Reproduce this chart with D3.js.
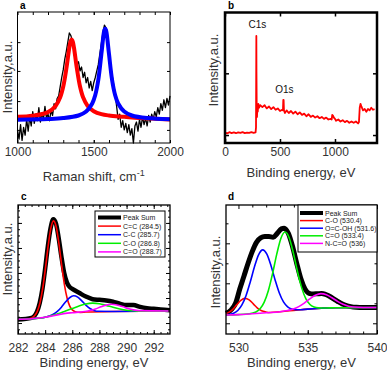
<!DOCTYPE html>
<html>
<head>
<meta charset="utf-8">
<script src="https://cdn.jsdelivr.net/npm/d3@7"></script>
<style>
  body { margin: 0; background: #fff; }
  text { font-family: "Liberation Sans", Arial, sans-serif; }
</style>
</head>
<body>
<svg id="fig" width="387" height="373"></svg>
<script>
// --- Data ---

// Panel a: Raman spectrum (intensity in arbitrary units, 0-100)
const ramanShift = d3.range(1000, 2001, 10);
const ramanRaw = [10, 3, 14, 2, 12, 6, 18, 9, 20, 13, 24, 15, 22, 17, 27, 16, 23, 18, 28, 19,
  22, 17, 25, 21, 30, 26, 34, 36, 43, 50, 56, 64, 70, 77, 84, 82, 78, 72, 66, 60,
  62, 55, 58, 50, 54, 46, 50, 42, 47, 40, 46, 50, 55, 60, 68, 76, 84, 90, 88, 80,
  70, 60, 52, 45, 38, 28, 18, 22, 12, 17, 10, 15, 8, 14, 6, 11, 0, 13, 16, 9,
  18, 12, 20, 14, 19, 13, 21, 16, 22, 18, 24, 20, 27, 22, 30, 25, 33, 27, 34, 29, 36];
const ramanD = [[1000, 20.0], [1100, 20.8], [1200, 23.6], [1250, 28.3], [1280, 34.9], [1300, 43.1],
  [1320, 56.5], [1340, 73], [1347, 77.2], [1355, 79], [1363, 77.2], [1370, 73], [1390, 56.5],
  [1410, 43.1], [1430, 34.9], [1460, 28.3], [1500, 24.3], [1550, 22], [1600, 21], [1700, 20],
  [1800, 19], [2000, 18]];
const ramanG = [[1000, 17.8], [1200, 18.3], [1300, 19], [1400, 21], [1450, 24], [1490, 30.2],
  [1510, 36.7], [1530, 48.3], [1550, 67.9], [1565, 83.4], [1570, 86.4], [1575, 87.5], [1580, 86.4],
  [1585, 83.4], [1600, 67.9], [1620, 48.3], [1640, 36.7], [1660, 30.2], [1700, 24], [1750, 21],
  [1850, 19], [2000, 18.1]];

// Panel b: XPS survey
const survey = [[0, 8], [20, 7.4], [40, 8.3], [60, 7.6], [80, 8.1], [100, 7.5], [120, 8.2], [140, 7.7],
  [160, 8.3], [180, 7.6], [200, 8.0], [220, 7.7], [240, 8.3], [260, 7.8], [278, 8.2], [282, 12],
  [284, 60], [285, 82], [286, 55], [288, 30], [291, 20], [294, 28], [298, 24], [303, 30], [310, 27],
  [320, 29], [340, 27.5], [360, 29], [380, 26.5], [400, 28], [420, 26], [440, 27.5], [460, 25.5],
  [480, 26.5], [500, 24.5], [520, 25.5], [527, 25], [530, 33], [533, 33], [536, 25], [545, 23],
  [560, 25], [580, 23], [600, 24.5], [620, 22.5], [640, 24], [660, 22], [680, 23.5], [700, 21.5],
  [720, 22.5], [740, 20.5], [760, 22], [780, 20], [800, 21], [820, 19.5], [840, 20.5], [860, 19],
  [880, 20], [900, 18.5], [920, 19.5], [940, 18], [960, 18.5], [970, 18], [975, 21.5], [982, 21],
  [990, 19.5], [1000, 18.5], [1010, 17], [1030, 18], [1050, 16.5], [1070, 17.5], [1090, 16],
  [1110, 17], [1130, 15.5], [1150, 16.5], [1170, 15.5], [1190, 16.5], [1210, 15], [1218, 16],
  [1225, 27], [1232, 30], [1240, 28], [1255, 25], [1270, 26], [1285, 24], [1300, 26], [1315, 25],
  [1330, 27], [1345, 25.5], [1360, 26]];
const surveyLabels = [["C1s", 285, 88], ["O1s", 531, 38]];

// Panel c: C1s high resolution
const cNames = ["Peak Sum", "C=C (284.5)", "C-C (285.7)", "C-O (286.8)", "C=O (288.7)"];
const cSum = [[282, 11.2], [283, 12.5], [283.4, 17.3], [283.6, 24], [283.8, 35], [284, 50.5], [284.2, 68],
  [284.4, 82], [284.6, 88.9], [284.8, 85.6], [285, 74.1], [285.2, 59.9], [285.4, 47.5], [285.6, 40],
  [285.8, 36.5], [286, 35], [286.5, 32], [287, 29], [287.5, 27], [288, 26.5], [288.5, 26], [289, 25],
  [289.5, 23.5], [290, 22.5], [290.5, 22.5], [291, 21], [291.5, 20], [292, 19.5], [292.5, 19], [293.2, 18.5]];
const cCC = [[282, 11.4], [282.6, 11.6], [283.02, 12.5], [283.22, 14.1], [283.42, 17.5], [283.62, 24.2],
  [283.82, 35.3], [284.02, 50.8], [284.22, 68.1], [284.42, 82.1], [284.62, 87.7], [284.82, 82.9],
  [285.02, 69.7], [285.22, 53.2], [285.42, 38.3], [285.62, 27.7], [285.82, 21.4], [286.02, 18.5],
  [286.22, 17.3], [286.6, 16.8], [287, 17], [289, 17.5], [293.2, 17.8]];
const cC_C = [[282, 11.4], [283, 11.8], [284, 13], [284.3, 14.0], [284.6, 15.3], [284.9, 17.5], [285.2, 20.8],
  [285.5, 24.8], [285.8, 28.1], [286.1, 29.6], [286.4, 28.6], [286.7, 25.7], [287, 22.4], [287.3, 19.8],
  [287.6, 18.3], [287.9, 17.6], [289, 17.5], [293.2, 17.8]];
const cCO = [[282, 11.4], [283, 11.8], [284, 13], [284.5, 14.4], [285, 15.9], [285.5, 17.9], [286, 19.8],
  [286.5, 21.7], [287, 23.3], [287.5, 23.9], [288, 23.5], [288.5, 22.2], [289, 20.7], [289.5, 19.4],
  [290, 18.45], [290.5, 18.0], [291, 17.65], [293.2, 17.8]];
const cCdO = [[282, 11.4], [283, 11.8], [284, 13], [284.5, 14], [285, 15], [285.5, 16], [286, 16.5],
  [286.9, 17.4], [287.3, 18.15], [287.7, 19.4], [288.1, 21.05], [288.5, 22.4], [288.9, 23.05],
  [289.3, 22.55], [289.7, 21.3], [290.1, 19.8], [290.5, 18.7], [290.9, 18.1], [293.2, 17.8]];

// Panel d: O1s high resolution
const dNames = ["Peak Sum", "C-O (530.4)", "O=C-OH (531.6)", "C=O (533.4)", "N-C=O (536)"];
const dSum = [[529.1, 16], [529.5, 19], [529.8, 24], [530.1, 35], [530.4, 45], [530.7, 55], [531, 64],
  [531.3, 71], [531.6, 74.5], [531.9, 75.5], [532.2, 75.5], [532.5, 75], [532.8, 78], [533.1, 81.5],
  [533.3, 82], [533.6, 78], [533.9, 68], [534.2, 55], [534.5, 43], [534.8, 35], [535.1, 31.5],
  [535.4, 31], [535.7, 31.2], [536, 31.4], [536.3, 30.6], [536.6, 29.05], [536.9, 27.05], [537.2, 25],
  [537.5, 23.2], [537.8, 22], [538.1, 21.25], [538.5, 20.7], [539, 20.5], [540, 20.5]];
const dCO = [[529.1, 15.7], [529.27, 16.55], [529.57, 18.95], [529.87, 22.55], [530.17, 26.0], [530.47, 27.6],
  [530.77, 26.45], [531.07, 23.35], [531.37, 20.1], [531.67, 18.0], [531.97, 17.1], [532.3, 16.7],
  [533, 17.3], [534, 18.3], [535, 19.3], [536, 20], [537, 20.4], [540, 20.5]];
const dOCOH = [[529.1, 14.8], [529.35, 15.2], [529.65, 16.1], [529.95, 18.2], [530.25, 22.5], [530.55, 29.9],
  [530.85, 40.3], [531.15, 51.9], [531.45, 61.35], [531.75, 65.2], [532.05, 61.85], [532.35, 52.9],
  [532.65, 41.7], [532.95, 31.75], [533.25, 24.85], [533.55, 21.05], [533.85, 19.35], [534.15, 18.85],
  [534.5, 18.8], [535, 19.3], [536, 20], [537, 20.4], [540, 20.5]];
const dCdO = [[529.1, 14.7], [530, 15], [530.96, 16.1], [531.26, 17.1], [531.56, 19.55], [531.86, 24.7],
  [532.16, 33.7], [532.46, 46.75], [532.76, 61.7], [533.06, 74.05], [533.36, 79.05], [533.66, 74.65],
  [533.96, 62.85], [534.26, 48.45], [534.56, 35.95], [534.86, 27.45], [535.16, 22.85], [535.46, 20.9],
  [535.76, 20.25], [536.2, 20.1], [537, 20.4], [540, 20.5]];
const dNCO = [[529.1, 14.7], [530, 15], [531, 15.7], [532, 16.5], [533, 17.3], [533.55, 18.25], [533.95, 19.35],
  [534.35, 21.25], [534.75, 23.95], [535.15, 27.2], [535.55, 30.0], [535.95, 31.3], [536.35, 30.45],
  [536.75, 28.1], [537.15, 25.3], [537.55, 23.0], [537.95, 21.55], [538.35, 20.87], [539, 20.5], [540, 20.5]];

const fitColors = ["#000000", "#ff0000", "#0000ff", "#00ee00", "#ff00ff"];

// --- Helpers ---

const svg = d3.select("#fig");
const textColor = "#333";

function makePanel(p) {
  const x = d3.scaleLinear().domain(p.xDomain).range([p.left, p.right]);
  const y = d3.scaleLinear().domain([0, 100]).range([p.bottom, p.top]);
  const g = svg.append("g");
  return { p: p, x: x, y: y, g: g };
}

function addAxis(P, axis, tr, size, labels, pad) {
  const a = P.g.append("g").attr("transform", tr)
    .call(axis.tickSize(-size).tickPadding(pad || 3).tickFormat(labels ? d3.format("d") : ""));
  a.select(".domain").remove();
  a.selectAll("line").attr("stroke-width", P.p.tickW || 1);
  a.attr("font-size", 12).attr("font-family", "Liberation Sans, Arial, sans-serif");
  a.selectAll("text").attr("fill", textColor);
  return a;
}

function drawAxes(P, o) {
  const p = P.p;
  addAxis(P, d3.axisBottom(P.x).tickValues(o.xMajor), `translate(0,${p.bottom})`, o.major, true, o.pad);
  addAxis(P, d3.axisTop(P.x).tickValues(o.xMajor), `translate(0,${p.top})`, o.major, false);
  if (o.xMinor) {
    addAxis(P, d3.axisBottom(P.x).tickValues(o.xMinor), `translate(0,${p.bottom})`, o.minor, false);
    addAxis(P, d3.axisTop(P.x).tickValues(o.xMinor), `translate(0,${p.top})`, o.minor, false);
  }
  addAxis(P, d3.axisLeft(P.y).tickValues(o.yMajor), `translate(${p.left},0)`, o.major, false);
  addAxis(P, d3.axisRight(P.y).tickValues(o.yMajor), `translate(${p.right},0)`, o.major, false);
  if (o.yMinor) {
    addAxis(P, d3.axisLeft(P.y).tickValues(o.yMinor), `translate(${p.left},0)`, o.minor, false);
    addAxis(P, d3.axisRight(P.y).tickValues(o.yMinor), `translate(${p.right},0)`, o.minor, false);
  }
}

function drawFrame(P, w) {
  const p = P.p;
  P.g.append("rect")
    .attr("x", p.left).attr("y", p.top)
    .attr("width", p.right - p.left).attr("height", p.bottom - p.top)
    .attr("fill", "none").attr("stroke", "#000").attr("stroke-width", w);
}

function drawLine(P, data, color, width, curve) {
  const line = d3.line()
    .x(d => P.x(d[0]))
    .y(d => P.y(d[1]))
    .curve(curve || d3.curveMonotoneX);
  P.g.append("path").datum(data)
    .attr("d", line)
    .attr("fill", "none").attr("stroke", color)
    .attr("stroke-width", width).attr("stroke-linejoin", "round");
}

function titles(P, xTitle, xY, yX, yY, letter, lx, ly) {
  const p = P.p;
  const t = P.g.append("text")
    .attr("x", (p.left + p.right) / 2).attr("y", xY)
    .attr("text-anchor", "middle").attr("font-size", 13).attr("fill", textColor)
    .text(xTitle);
  P.g.append("text")
    .attr("transform", `translate(${yX},${yY}) rotate(-90)`)
    .attr("text-anchor", "middle").attr("font-size", 13).attr("fill", textColor)
    .text("Intensity,a.u.");
  P.g.append("text")
    .attr("x", lx).attr("y", ly)
    .attr("font-size", 10).attr("font-weight", "bold").attr("fill", "#000")
    .text(letter);
  return t;
}

function legend(P, names, box, rowY, rowH, lineX0, lineX1) {
  P.g.append("rect")
    .attr("x", box[0]).attr("y", box[1]).attr("width", box[2]).attr("height", box[3])
    .attr("fill", "#fff").attr("stroke", "#000").attr("stroke-width", 1);
  names.forEach(function (n, i) {
    const yy = rowY + i * rowH;
    P.g.append("line")
      .attr("x1", lineX0).attr("x2", lineX1).attr("y1", yy).attr("y2", yy)
      .attr("stroke", fitColors[i]).attr("stroke-width", i === 0 ? 4 : 1.5);
    P.g.append("text")
      .attr("x", lineX1 + 2).attr("y", yy + 2.5)
      .attr("font-size", 7).attr("fill", "#222")
      .text(n);
  });
}

// --- Panel a ---
const A = makePanel({ left: 17.5, right: 170, top: 12, bottom: 143, xDomain: [1000, 2000] });
drawLine(A, ramanShift.map((s, i) => [s, ramanRaw[i]]), "#000", 1.3, d3.curveLinear);
drawLine(A, ramanD, "#ff0000", 4, d3.curveCatmullRom);
drawLine(A, ramanG, "#0000ff", 4, d3.curveCatmullRom);
drawAxes(A, {
  xMajor: [1000, 1500, 2000], xMinor: d3.range(1100, 2000, 100), major: 3, minor: 3,
  yMajor: [10, 32, 55, 77], pad: 4
});
drawFrame(A, 1);
const ta = titles(A, "Raman shift, cm", 181, 12, 77, "a", 20, 9);
ta.append("tspan").attr("dy", -5).attr("font-size", 9).text("-1");

// --- Panel b ---
const B = makePanel({ left: 225, right: 377, top: 12.5, bottom: 143, xDomain: [0, 1382], tickW: 1.5 });
drawLine(B, survey, "#ff0000", 1.8, d3.curveLinear);
drawAxes(B, { xMajor: [0, 500, 1000], major: 4, yMajor: [6.1, 53.4], pad: 4 });
drawFrame(B, 2.5);
surveyLabels.forEach(function (l) {
  B.g.append("text")
    .attr("x", B.x(l[1]) + 1).attr("y", B.y(l[2]))
    .attr("text-anchor", "middle").attr("font-size", 10).attr("fill", "#111")
    .text(l[0]);
});
titles(B, "Binding energy, eV", 177, 218, 70, "b", 228, 9);

// --- Panel c ---
const C = makePanel({ left: 18, right: 170, top: 205, bottom: 334, xDomain: [282, 293.2] });
drawLine(C, cSum, "#000", 4.5);
drawLine(C, cCC, fitColors[1], 1.6);
drawLine(C, cC_C, fitColors[2], 1.6);
drawLine(C, cCO, fitColors[3], 1.6);
drawLine(C, cCdO, fitColors[4], 1.6);
drawAxes(C, {
  xMajor: [282, 284, 286, 288, 290, 292], xMinor: d3.range(282.5, 293.2, 0.5), major: 4, minor: 2,
  yMajor: [8.5, 27.9, 47.3, 66.7, 86.1], yMinor: d3.range(3.65, 100, 4.85), pad: 9
});
drawFrame(C, 1.3);
legend(C, cNames, [95, 211, 70, 46], 217.5, 8.6, 98, 121);
titles(C, "Binding energy, eV", 367, 12, 259, "c", 21, 200);

// --- Panel d ---
const D = makePanel({ left: 226, right: 377, top: 205, bottom: 334, xDomain: [529.1, 540] });
drawLine(D, dSum, "#000", 5);
drawLine(D, dCO, fitColors[1], 1.6);
drawLine(D, dOCOH, fitColors[2], 1.6);
drawLine(D, dCdO, fitColors[3], 1.6);
drawLine(D, dNCO, fitColors[4], 1.6);
drawAxes(D, {
  xMajor: [530, 535, 540], xMinor: d3.range(531, 540, 1), major: 4, minor: 2.5,
  yMajor: [8.3, 39.3, 70.3], yMinor: [23.8, 54.8, 85.8], pad: 9
});
drawFrame(D, 1.3);
legend(D, dNames, [298, 205, 79, 47], 213, 7.6, 300, 323);
titles(D, "Binding energy, eV", 367, 220, 272, "d", 228, 200);
</script>
</body>
</html>
